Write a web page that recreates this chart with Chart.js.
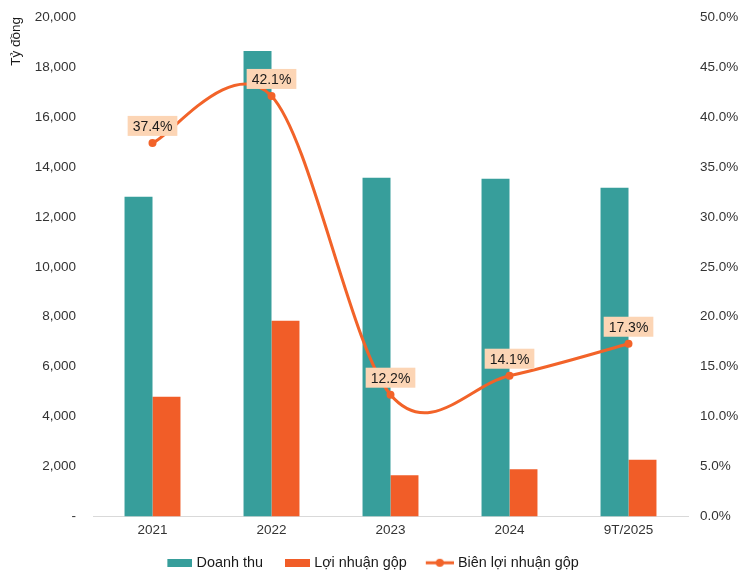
<!DOCTYPE html>
<html>
<head>
<meta charset="utf-8">
<script src="https://cdn.jsdelivr.net/npm/chart.js@4.4.1/dist/chart.umd.min.js"></script>
<style>
  body { margin: 0; background: #fff; }
</style>
</head>
<body>
<canvas id="chart" width="746" height="576"></canvas>
<script>
// Données
const categories = ['2021', '2022', '2023', '2024', '9T/2025'];
const doanhThu = [12800, 18640, 13560, 13520, 13160];
const loiNhuanGop = [4800, 7840, 1660, 1900, 2280];
const bienLoiNhuan = [37.4, 42.1, 12.2, 14.1, 17.3];

const TEAL = '#379e9b';
const ORANGE = '#f15d28';
const LINE = '#f26329';
const LABEL_BG = '#fcd5b5';
const FONT = 'Arial, "Liberation Sans", sans-serif';

// Petites icônes pour la légende (calées à droite pour coller au texte)
function makeRectIcon(color) {
    const c = document.createElement('canvas');
    c.width = 40; c.height = 8;
    const g = c.getContext('2d');
    g.fillStyle = color;
    g.fillRect(15, 0, 25, 8);
    return c;
}
function makeLineIcon(color) {
    const c = document.createElement('canvas');
    c.width = 40; c.height = 10;
    const g = c.getContext('2d');
    g.strokeStyle = color;
    g.lineWidth = 3;
    g.beginPath();
    g.moveTo(12, 5);
    g.lineTo(40, 5);
    g.stroke();
    g.fillStyle = color;
    g.beginPath();
    g.arc(26, 5, 4, 0, Math.PI * 2);
    g.fill();
    return c;
}
const legendIcons = [makeRectIcon(TEAL), makeRectIcon(ORANGE), makeLineIcon(LINE)];

// Lissage façon Excel (Catmull-Rom) : points de contrôle à 1/6 de (suivant - précédent)
const excelSmooth = {
    id: 'excelSmooth',
    beforeDatasetDraw(chart, args) {
        if (args.index !== 2) return;
        const line = args.meta.dataset;
        line.updateControlPoints(chart.chartArea, 'x');
        const pts = args.meta.data;
        pts.forEach((pt, i) => {
            const prev = pts[i - 1] || pt;
            const next = pts[i + 1] || pt;
            const dx = (next.x - prev.x) / 6;
            const dy = (next.y - prev.y) / 6;
            pt.cp1x = pt.x - dx;
            pt.cp1y = pt.y - dy;
            pt.cp2x = pt.x + dx;
            pt.cp2y = pt.y + dy;
        });
        line._path = undefined;
    }
};

// Étiquettes de la courbe
const lineLabels = {
    id: 'lineLabels',
    afterDatasetsDraw(chart) {
        const meta = chart.getDatasetMeta(2);
        const ctx = chart.ctx;
        ctx.save();
        ctx.font = '14px ' + FONT;
        ctx.textAlign = 'center';
        ctx.textBaseline = 'middle';
        meta.data.forEach((pt, i) => {
            const text = bienLoiNhuan[i].toFixed(1) + '%';
            const w = ctx.measureText(text).width + 10;
            const h = 20;
            const cx = pt.x;
            const cy = pt.y - 17;
            ctx.fillStyle = LABEL_BG;
            ctx.fillRect(cx - w / 2, cy - h / 2, w, h);
            ctx.fillStyle = '#1a1a1a';
            ctx.fillText(text, cx, cy + 1);
        });
        ctx.restore();
    }
};

// Pas de marge supplémentaire au-dessus/au-dessous des axes verticaux
function fixVertical(width) {
    return scale => {
        scale.width = width;
        scale.paddingTop = 0;
        scale.paddingBottom = 0;
    };
}

new Chart(document.getElementById('chart'), {
    type: 'bar',
    data: {
        labels: categories,
        datasets: [
            {
                label: 'Doanh thu',
                data: doanhThu,
                backgroundColor: TEAL,
                yAxisID: 'y',
                categoryPercentage: 0.47,
                barPercentage: 1,
                order: 1
            },
            {
                label: 'Lợi nhuận gộp',
                data: loiNhuanGop,
                backgroundColor: ORANGE,
                yAxisID: 'y',
                categoryPercentage: 0.47,
                barPercentage: 1,
                order: 1
            },
            {
                type: 'line',
                label: 'Biên lợi nhuận gộp',
                data: bienLoiNhuan,
                borderColor: LINE,
                backgroundColor: LINE,
                borderWidth: 3,
                pointRadius: 4,
                pointBackgroundColor: LINE,
                pointBorderWidth: 0,
                tension: 0.4,
                yAxisID: 'y1',
                order: 0
            }
        ]
    },
    options: {
        responsive: false,
        animation: false,
        layout: { padding: { top: 17, bottom: -4, left: -12 } },
        plugins: {
            tooltip: { enabled: false },
            legend: {
                position: 'bottom',
                labels: {
                    usePointStyle: true,
                    pointStyleWidth: 34,
                    padding: 10,
                    color: '#1a1a1a',
                    font: { family: FONT, size: 14.4 },
                    sort: (a, b) => a.datasetIndex - b.datasetIndex,
                    generateLabels(chart) {
                        const items = Chart.defaults.plugins.legend.labels.generateLabels(chart);
                        items.forEach(it => { it.pointStyle = legendIcons[it.datasetIndex]; });
                        return items;
                    }
                }
            }
        },
        scales: {
            x: {
                grid: { display: false, drawTicks: false },
                border: { display: true, color: '#d9d9d9' },
                afterFit(scale) { scale.height = 29; },
                ticks: { color: '#333', font: { family: FONT, size: 13.5 }, padding: 6 }
            },
            y: {
                position: 'left',
                min: 0,
                max: 20000,
                grid: { display: false, drawTicks: false },
                border: { display: false },
                afterFit: fixVertical(105),
                ticks: {
                    stepSize: 2000,
                    padding: 17,
                    color: '#333',
                    font: { family: FONT, size: 13.5 },
                    callback: v => v === 0 ? '-' : v.toLocaleString('en-US')
                },
                title: {
                    display: true,
                    text: 'Tỷ đồng',
                    align: 'end',
                    color: '#1a1a1a',
                    padding: { top: 20 },
                    font: { family: FONT, size: 13.5 }
                }
            },
            y1: {
                position: 'right',
                min: 0,
                max: 50,
                grid: { display: false, drawTicks: false },
                border: { display: false },
                afterFit: fixVertical(58),
                ticks: {
                    stepSize: 5,
                    padding: 12,
                    color: '#333',
                    font: { family: FONT, size: 13.5 },
                    callback: v => v.toFixed(1) + '%'
                }
            }
        }
    },
    plugins: [excelSmooth, lineLabels]
});
</script>
</body>
</html>
